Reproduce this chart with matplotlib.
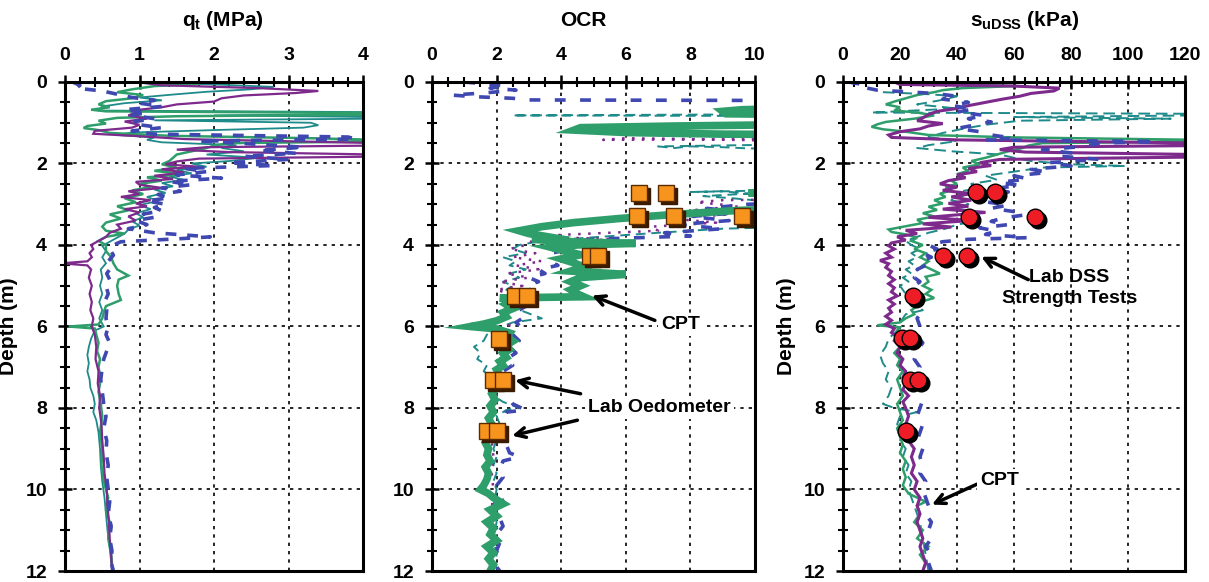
import numpy as np
import matplotlib
matplotlib.use("Agg")
import matplotlib.pyplot as plt
from matplotlib.transforms import offset_copy

plt.rcParams['font.family'] = ['Liberation Sans', 'DejaVu Sans']
plt.rcParams['font.weight'] = 'bold'
plt.rcParams['mathtext.fontset'] = 'custom'
plt.rcParams['mathtext.rm'] = 'Liberation Sans:bold'
plt.rcParams['mathtext.it'] = 'Liberation Sans:bold'
plt.rcParams['mathtext.bf'] = 'Liberation Sans:bold'

# colours of the CPT soundings
PURPLE = '#7D2A8C'
GREEN = '#2E9E6A'
TEAL = '#1F8A8A'
BLUE = '#3F48B0'

# ---- qt (MPa) : (depth, value) ----
qt_purple = [(0.00,0.95),(0.08,1.3),(0.15,2.6),(0.22,3.4),(0.27,3.1),(0.33,2.4),(0.40,2.1),(0.48,2.0),(0.55,1.5),(0.62,1.3),
             (0.68,1.0),(0.75,0.95),(0.82,0.85),(0.90,1.1),(0.97,0.8),(1.05,1.0),(1.12,0.9),(1.20,0.4),(1.27,0.38),(1.33,1.0),
             (1.40,1.6),(1.50,4.2),(1.56,4.2),(1.60,1.9),(1.66,1.5),(1.72,2.2),(1.78,4.2),(1.83,4.2),(1.88,1.8),(1.95,1.5),
             (2.02,1.35),(2.08,1.8),(2.14,1.3),(2.22,1.6),(2.30,1.2),(2.38,1.45),(2.45,0.95),(2.52,1.0),(2.60,1.3),(2.68,0.85),
             (2.75,1.0),(2.82,0.75),(2.90,1.15),(2.98,0.95),(3.05,1.1),(3.12,0.8),(3.20,1.0),(3.30,0.85),(3.40,0.95),(3.50,0.7),
             (3.60,0.75),(3.70,0.6),(3.80,0.55),(3.90,0.45),(4.00,0.35),(4.10,0.38),(4.20,0.33),(4.30,0.36),(4.40,0.3),(4.45,-0.05),
             (4.50,0.3),(4.60,0.35),(4.80,0.32),(5.00,0.36),(5.20,0.33),(5.40,0.36),(5.60,0.34),(5.80,0.38),(6.00,0.36),(6.20,0.40),
             (6.50,0.42),(6.80,0.41),(7.10,0.45),(7.40,0.44),(7.70,0.47),(8.00,0.46),(8.40,0.49),(8.80,0.50),(9.20,0.52),(9.60,0.53),
             (10.0,0.56),(10.4,0.57),(10.8,0.59),(11.2,0.60),(11.6,0.62),(12.0,0.63)]
qt_green = [(0.00,1.0),(0.05,1.8),(0.10,1.2),(0.18,0.9),(0.25,0.7),(0.32,1.05),(0.40,0.9),(0.47,0.55),(0.55,0.45),(0.62,0.6),
            (0.68,0.35),(0.72,0.55),(0.76,4.2),(0.80,4.2),(0.84,1.5),(0.88,0.7),(0.95,0.45),(1.02,0.55),(1.08,0.3),(1.13,0.25),
            (1.18,0.45),(1.25,0.6),(1.32,1.4),(1.38,3.3),(1.42,4.2),(1.46,4.2),(1.50,2.2),(1.56,2.0),(1.62,1.9),(1.70,1.7),
            (1.78,1.5),(1.86,1.45),(1.94,1.4),(2.02,1.3),(2.10,1.5),(2.18,1.2),(2.26,1.6),(2.34,1.1),(2.42,1.3),(2.50,1.0),
            (2.58,1.15),(2.66,0.9),(2.75,1.05),(2.85,0.8),(2.95,0.95),(3.05,0.7),(3.15,0.85),(3.25,0.6),(3.35,0.75),(3.45,0.55),
            (3.55,0.5),(3.65,0.55),(3.72,0.8),(3.80,0.55),(3.90,0.45),(4.00,0.55),(4.15,0.55),(4.30,0.62),(4.45,0.65),(4.60,0.70),
            (4.75,0.85),(4.85,0.72),(5.00,0.70),(5.20,0.72),(5.35,0.75),(5.50,0.55),(5.65,0.52),(5.80,0.50),(5.95,0.45),(6.00,0.05),
            (6.05,0.40),(6.20,0.42),(6.40,0.45),(6.60,0.43),(6.80,0.47),(7.00,0.45),(7.30,0.48),(7.60,0.45),(7.90,0.48),(8.20,0.50),
            (8.60,0.47),(9.00,0.50),(9.40,0.49),(9.80,0.52),(10.2,0.58),(10.5,0.55),(10.8,0.60),(11.2,0.58),(11.6,0.62),(12.0,0.64)]
qt_teal = [(0.00,0.7),(0.06,2.0),(0.12,2.8),(0.18,2.5),(0.24,1.9),(0.30,1.5),(0.38,1.0),(0.45,1.3),(0.52,0.8),(0.60,0.5),
           (0.70,0.45),(0.74,4.2),(0.78,4.2),(0.82,2.0),(0.86,4.2),(0.90,4.2),(0.94,1.2),(1.00,3.3),(1.06,3.4),(1.12,3.2),
           (1.18,2.0),(1.24,0.9),(1.30,0.7),(1.36,1.2),(1.42,1.1),(1.48,1.3),(1.55,2.3),(1.62,2.1),(1.70,2.4),(1.78,1.9),
           (1.86,2.6),(1.94,2.2),(2.00,1.7),(2.08,1.9),(2.16,1.5),(2.24,1.7),(2.32,1.4),(2.40,1.6),(2.48,1.3),(2.56,1.45),
           (2.64,1.2),(2.72,1.35),(2.82,1.1),(2.92,1.25),(3.02,1.0),(3.12,1.15),(3.22,0.95),(3.32,1.05),(3.42,0.9),(3.52,1.0),
           (3.62,0.85),(3.72,0.8),(3.82,0.7),(3.92,0.6),(4.02,0.5),(4.15,0.55),(4.30,0.5),(4.45,0.55),(4.60,0.48),(4.80,0.50),
           (5.00,0.47),(5.20,0.50),(5.40,0.46),(5.60,0.50),(5.80,0.46),(6.00,0.52),(6.10,0.40),(6.30,0.35),(6.50,0.32),(6.70,0.30),
           (6.90,0.32),(7.10,0.30),(7.30,0.33),(7.50,0.34),(7.70,0.38),(7.90,0.40),(8.10,0.38),(8.30,0.42),(8.60,0.45),(9.00,0.47),
           (9.40,0.48),(9.80,0.50),(10.2,0.53),(10.6,0.55),(11.0,0.57),(11.4,0.60),(11.8,0.62),(12.0,0.64)]
qt_blue = [(0.00,0.1),(0.08,0.2),(0.15,0.15),(0.22,0.5),(0.30,0.7),(0.38,0.9),(0.45,1.2),(0.52,1.0),(0.60,1.3),(0.68,0.8),
           (0.75,1.1),(0.82,0.9),(0.90,1.2),(0.98,0.9),(1.05,1.0),(1.12,1.3),(1.20,0.9),(1.28,1.2),(1.35,3.8),(1.40,3.9),
           (1.45,1.8),(1.52,2.5),(1.60,3.2),(1.68,2.6),(1.75,3.1),(1.82,2.4),(1.90,3.0),(1.98,2.2),(2.05,2.8),(2.12,1.6),
           (2.20,1.9),(2.28,1.5),(2.36,2.1),(2.44,1.4),(2.52,1.7),(2.60,1.3),(2.68,1.55),(2.76,1.25),(2.84,1.4),(2.92,1.1),
           (3.00,1.35),(3.08,1.2),(3.16,1.3),(3.24,1.05),(3.32,1.2),(3.40,0.95),(3.50,1.1),(3.60,0.85),(3.70,1.2),(3.80,1.95),
           (3.85,1.5),(3.92,0.75),(4.00,0.65),(4.10,0.60),(4.25,0.65),(4.40,0.58),(4.55,0.62),(4.70,0.56),(4.85,0.6),(5.00,0.55),
           (5.20,0.58),(5.40,0.53),(5.60,0.56),(5.80,0.55),(6.00,0.58),(6.20,0.55),(6.40,0.60),(6.60,0.56),(6.80,0.52),(7.00,0.50),
           (7.30,0.48),(7.60,0.50),(7.90,0.52),(8.20,0.55),(8.50,0.52),(8.80,0.56),(9.10,0.55),(9.40,0.58),(9.70,0.56),(10.0,0.58),
           (10.3,0.60),(10.6,0.58),(10.9,0.62),(11.2,0.60),(11.5,0.63),(11.8,0.62),(12.0,0.65)]

# ---- OCR : (depth, value) ----
ocr_green = [(0.60,14),(0.68,9.6),(0.72,9.0),(0.78,9.1),(0.82,14),(1.02,14),(1.08,7.5),(1.12,4.6),(1.18,4.4),(1.24,6.0),
             (1.28,9.0),(1.30,14),(2.65,14),(2.72,9.8),(2.78,14),(3.05,14),(3.15,9.5),(3.25,7.5),(3.35,5.8),(3.45,4.4),
             (3.55,3.4),(3.65,2.7),(3.72,3.0),(3.80,3.6),(3.86,3.1),(3.92,4.2),(3.96,6.3),(4.00,4.5),(4.06,3.7),(4.14,4.1),
             (4.24,4.6),(4.34,4.0),(4.44,4.4),(4.54,4.7),(4.64,4.3),(4.72,6.0),(4.80,4.6),(4.90,4.3),(5.00,4.6),(5.10,4.3),
             (5.20,4.5),(5.27,4.7),(5.30,2.1),(5.36,2.6),(5.46,2.3),(5.56,2.5),(5.66,2.2),(5.76,2.3),(5.86,2.0),(5.94,1.6),
             (6.00,1.2),(6.06,2.0),(6.16,2.4),(6.26,2.3),(6.36,2.5),(6.46,2.3),(6.56,2.4),(6.66,2.2),(6.76,2.3),(6.86,2.1),
             (6.96,2.2),(7.06,2.0),(7.20,2.1),(7.35,1.9),(7.50,2.0),(7.65,1.85),(7.80,1.95),(7.95,1.8),(8.10,1.9),(8.25,1.75),
             (8.40,1.85),(8.55,1.7),(8.70,1.8),(8.85,1.65),(9.00,1.75),(9.15,1.7),(9.30,1.8),(9.45,1.65),(9.60,1.75),(9.75,1.7),
             (9.90,1.6),(10.00,1.5),(10.10,1.75),(10.20,1.9),(10.35,2.2),(10.50,1.8),(10.65,2.0),(10.80,1.7),(10.95,1.9),(11.10,1.8),
             (11.25,2.0),(11.40,1.7),(11.55,1.9),(11.70,1.75),(11.85,1.9),(12.00,1.8)]
ocr_blue = [(0.00,1.0),(0.05,1.7),(0.10,2.3),(0.15,1.8),(0.20,2.6),(0.27,1.6),(0.32,0.6),(0.36,1.3),(0.40,2.5),(0.44,3.0),
            (0.46,14),(2.90,14),(3.00,9.8),(3.10,8.5),(3.20,9.6),(3.30,8.0),(3.40,9.2),(3.50,7.6),(3.60,9.0),(3.70,7.2),
            (3.78,8.0),(3.82,6.4),(3.86,5.0),(3.92,4.2),(4.00,3.6),(4.10,4.3),(4.20,3.7),(4.30,4.1),(4.40,3.6),(4.50,3.9),
            (4.60,3.3),(4.70,3.5),(4.80,3.0),(4.90,3.3),(5.00,2.9),(5.15,3.1),(5.30,2.8),(5.45,3.0),(5.60,2.7),(5.75,2.9),
            (5.90,2.6),(6.05,2.8),(6.20,2.5),(6.35,2.7),(6.50,2.4),(6.65,2.6),(6.80,2.3),(6.95,2.5),(7.10,2.2),(7.30,2.4),
            (7.50,2.2),(7.70,2.3),(7.90,2.5),(8.05,2.9),(8.10,2.3),(8.30,2.2),(8.50,2.3),(8.70,2.1),(8.90,2.3),(9.10,2.4),
            (9.20,2.7),(9.30,2.2),(9.50,2.1),(9.70,2.2),(9.90,2.0),(10.10,2.1),(10.30,2.2),(10.50,2.0),(10.70,2.1),(10.90,2.2),
            (11.10,2.0),(11.30,2.1),(11.50,2.0),(11.70,2.1),(11.90,2.0),(12.00,2.1)]
ocr_teal = [(0.78,14),(0.82,2.5),(0.84,14),(1.50,14),(1.58,7.0),(1.62,7.5),(1.58,8.0),(1.60,9.0),(1.63,9.8),(1.65,14),
            (2.60,14),(2.70,8.0),(2.68,9.0),(2.74,9.8),(2.80,8.4),(2.86,9.4),(2.94,10.5),(3.20,14),(3.50,14),(3.60,9.0),
            (3.70,7.0),(3.80,5.2),(3.90,3.4),(4.00,2.7),(4.10,2.5),(4.20,2.9),(4.30,2.2),(4.40,2.6),(4.50,2.4),(4.60,2.9),
            (4.70,2.4),(4.80,2.7),(4.90,2.2),(5.00,2.5),(5.10,2.3),(5.20,2.8),(5.35,3.2),(5.50,2.4),(5.65,2.9),(5.80,3.4),
            (5.90,2.5),(6.05,2.0),(6.20,1.7),(6.35,1.6),(6.50,1.3),(6.65,1.5),(6.80,1.4),(6.95,1.7),(7.10,1.6),(7.25,1.9),
            (7.40,1.8),(7.55,2.0),(7.70,1.9),(7.85,2.2),(8.00,2.7),(8.05,2.3),(8.20,2.0),(8.40,2.1),(8.60,1.9),(8.80,2.0),
            (9.00,1.9),(9.20,2.0),(9.40,1.9),(9.60,2.0),(9.80,1.9),(10.00,2.0),(10.40,1.9),(10.80,2.0),(11.20,1.9),(11.60,2.0),
            (12.00,1.9)]
ocr_purple = [(1.30,14),(1.40,10.0),(1.42,5.3),(1.38,6.0),(1.40,8.0),(1.43,10.0),(1.45,14),(2.85,14),(2.90,9.0),(2.95,8.2),
              (3.05,9.5),(3.15,8.0),(3.25,9.2),(3.35,7.4),(3.45,8.8),(3.55,6.8),(3.65,7.0),(3.70,5.5),(3.75,4.0),(3.80,3.3),
              (3.86,5.8),(3.92,3.0),(4.00,2.9),(4.10,2.4),(4.20,3.2),(4.30,2.5),(4.40,3.4),(4.50,2.6),(4.60,3.3),(4.70,2.3),
              (4.80,3.0),(4.90,2.1),(5.00,2.8),(5.10,2.0),(5.20,2.4),(5.35,2.6),(5.50,2.2),(5.65,2.5),(5.80,2.1),(5.95,2.4),
              (6.10,2.2),(6.30,2.3),(6.50,2.1),(6.70,2.2),(6.90,2.0),(7.10,2.1),(7.40,1.95),(7.70,2.0),(8.00,1.9),(8.40,1.95),
              (8.80,1.85),(9.20,1.9),(9.60,1.85),(10.00,1.9),(10.50,1.85),(11.00,1.9),(11.50,1.85),(12.00,1.9)]

# ---- suDSS (kPa) : (depth, value) ----
su_purple = [(0.00,18),(0.06,20),(0.10,60),(0.15,76),(0.22,74),(0.28,66),(0.35,62),(0.42,56),(0.50,50),(0.58,44),
             (0.65,40),(0.72,33),(0.80,30),(0.88,28),(0.95,26),(1.02,35),(1.08,30),(1.15,27),(1.22,20),(1.30,16),
             (1.36,17),(1.42,40),(1.50,125),(1.56,125),(1.60,60),(1.66,55),(1.72,64),(1.78,125),(1.84,125),(1.90,55),
             (1.98,48),(2.05,52),(2.12,44),(2.20,47),(2.28,40),(2.35,43),(2.42,37),(2.50,34),(2.58,40),(2.66,35),
             (2.74,45),(2.82,38),(2.90,45),(2.98,37),(3.05,44),(3.12,35),(3.20,50),(3.26,40),(3.32,30),(3.40,45),
             (3.48,28),(3.56,38),(3.64,22),(3.72,26),(3.80,19),(3.88,22),(3.95,17),(4.02,16),(4.10,18),(4.20,15),
             (4.30,17),(4.38,13),(4.46,16),(4.55,15),(4.65,17),(4.75,16),(4.85,18),(4.95,16),(5.05,18),(5.15,17),
             (5.25,19),(5.35,16),(5.45,18),(5.55,16),(5.65,17),(5.75,15),(5.85,17),(5.95,15),(6.05,18),(6.15,17),
             (6.25,19),(6.35,18),(6.50,20),(6.65,19),(6.80,21),(6.95,20),(7.10,22),(7.25,21),(7.40,22),(7.55,21),
             (7.70,23),(7.85,21),(8.00,22),(8.20,23),(8.40,22),(8.60,24),(8.80,23),(9.00,25),(9.20,24),(9.40,25),
             (9.60,24),(9.80,26),(10.00,25),(10.20,27),(10.40,26),(10.60,27),(10.80,26),(11.00,27),(11.20,28),(11.40,27),
             (11.60,28),(11.80,29),(12.00,28)]
su_green = [(0.00,22),(0.05,40),(0.10,60),(0.15,42),(0.20,35),(0.25,32),(0.32,26),(0.40,22),(0.48,18),(0.55,15),
            (0.62,20),(0.70,18),(0.75,26),(0.82,32),(0.90,25),(0.98,15),(1.04,12),(1.10,10),(1.16,14),(1.22,22),
            (1.30,30),(1.36,60),(1.42,125),(1.46,125),(1.50,70),(1.56,65),(1.62,63),(1.70,58),(1.78,54),(1.86,50),
            (1.94,45),(2.02,48),(2.10,42),(2.18,44),(2.26,40),(2.34,42),(2.42,38),(2.50,40),(2.58,36),(2.66,38),
            (2.74,34),(2.82,36),(2.90,32),(2.98,35),(3.06,30),(3.14,33),(3.22,28),(3.30,32),(3.38,26),(3.46,28),
            (3.54,22),(3.62,16),(3.68,17),(3.74,22),(3.82,26),(3.90,24),(4.00,28),(4.10,25),(4.20,29),(4.30,27),
            (4.40,30),(4.50,28),(4.60,31),(4.70,34),(4.78,29),(4.90,30),(5.00,28),(5.10,31),(5.20,29),(5.30,32),
            (5.40,27),(5.50,26),(5.60,24),(5.70,25),(5.80,22),(5.90,20),(5.97,12),(6.02,20),(6.10,19),(6.20,21),
            (6.35,19),(6.50,20),(6.65,18),(6.80,20),(6.95,19),(7.10,21),(7.30,19),(7.50,20),(7.70,21),(7.90,19),
            (8.10,20),(8.30,21),(8.50,19),(8.70,20),(8.90,21),(9.10,20),(9.30,22),(9.50,21),(9.70,22),(9.90,21),
            (10.10,23),(10.30,29),(10.40,26),(10.60,27),(10.80,25),(11.00,28),(11.20,26),(11.40,30),(11.60,27),(11.80,29),
            (12.00,28)]
su_teal = [(0.25,14),(0.30,30),(0.35,40),(0.45,34),(0.55,26),(0.65,40),(0.75,10),(0.78,125),(0.82,125),(0.86,60),
           (0.90,115),(0.95,62),(1.05,50),(1.15,42),(1.25,35),(1.35,30),(1.45,40),(1.55,30),(1.62,26),(1.70,38),
           (1.78,55),(1.86,60),(1.94,66),(2.02,80),(2.06,99),(2.10,70),(2.20,60),(2.30,50),(2.40,54),(2.50,45),
           (2.60,48),(2.70,40),(2.80,42),(2.90,38),(3.00,44),(3.10,40),(3.20,46),(3.30,42),(3.40,48),(3.50,40),
           (3.60,36),(3.70,30),(3.80,26),(3.90,22),(4.00,24),(4.10,27),(4.20,24),(4.30,26),(4.40,23),(4.50,25),
           (4.60,22),(4.70,24),(4.80,21),(4.90,23),(5.00,20),(5.20,22),(5.40,24),(5.60,28),(5.70,22),(5.90,20),
           (6.10,19),(6.30,16),(6.50,15),(6.70,13),(6.90,14),(7.10,16),(7.30,15),(7.50,17),(7.70,16),(7.90,14),
           (8.00,18),(8.10,26),(8.20,20),(8.40,19),(8.60,21),(8.80,20),(9.00,22),(9.20,21),(9.40,23),(9.60,22),
           (9.80,24),(10.00,23),(10.40,25),(10.80,27),(11.20,28),(11.60,29),(12.00,30)]
su_blue = [(0.00,2),(0.05,6),(0.10,5),(0.20,12),(0.28,32),(0.35,40),(0.42,35),(0.50,44),(0.58,38),(0.66,46),
           (0.74,40),(0.82,50),(0.90,44),(0.98,52),(1.06,46),(1.14,40),(1.22,48),(1.30,52),(1.38,60),(1.42,50),
           (1.46,110),(1.50,90),(1.58,85),(1.66,70),(1.74,80),(1.82,76),(1.90,90),(1.98,72),(2.06,80),(2.14,66),
           (2.22,72),(2.30,60),(2.38,65),(2.46,55),(2.54,62),(2.62,52),(2.70,58),(2.78,48),(2.86,55),(2.94,50),
           (3.02,58),(3.10,52),(3.18,60),(3.26,64),(3.34,56),(3.42,52),(3.50,58),(3.58,48),(3.66,54),(3.74,50),
           (3.82,65),(3.86,44),(3.92,35),(4.00,30),(4.10,33),(4.20,28),(4.30,31),(4.40,27),(4.50,29),(4.60,26),
           (4.70,28),(4.80,25),(4.90,27),(5.00,25),(5.20,27),(5.40,26),(5.60,28),(5.80,26),(6.00,27),(6.20,25),
           (6.40,28),(6.60,26),(6.80,25),(7.00,27),(7.20,26),(7.40,28),(7.60,27),(7.80,28),(8.00,27),(8.20,26),
           (8.40,28),(8.60,27),(8.80,26),(9.00,28),(9.20,27),(9.40,28),(9.60,27),(9.80,29),(10.00,28),(10.20,29),
           (10.40,30),(10.60,29),(10.80,31),(11.00,30),(11.20,31),(11.40,29),(11.60,31),(11.80,30),(12.00,31)]

# ---- lab tests ----
oed_ocr = [6.4, 7.24, 6.35, 7.5, 9.6, 4.9, 5.15, 2.57, 2.93, 2.08, 1.9, 2.2, 1.7, 2.0]
oed_depth = [2.73, 2.73, 3.29, 3.29, 3.29, 4.27, 4.27, 5.24, 5.24, 6.3, 7.32, 7.32, 8.57, 8.57]
dss_su = [46.6, 53.3, 44.2, 67.4, 35.0, 43.5, 24.6, 20.7, 23.5, 23.5, 26.3, 22.1]
dss_depth = [2.71, 2.71, 3.32, 3.32, 4.27, 4.27, 5.24, 6.29, 6.29, 7.32, 7.32, 8.56]


def draw(ax, pts, color, lw, dashes=None):
    a = np.array(pts)
    line, = ax.plot(a[:, 1], a[:, 0], color=color, lw=lw, solid_joinstyle='miter')
    if dashes is not None:
        line.set_dashes(dashes)


def setup(ax, xmax, xmajor, xminor):
    ax.set_xlim(0, xmax)
    ax.set_ylim(12, 0)
    ax.xaxis.tick_top()
    ax.set_xticks(np.arange(0, xmax + 0.001, xmajor))
    ax.set_xticks(np.arange(0, xmax + 0.001, xminor), minor=True)
    ax.set_yticks(np.arange(0, 12.01, 2))
    ax.set_yticks(np.arange(0, 12.01, 0.5), minor=True)
    ax.tick_params(which='major', direction='inout', length=10, width=1.8, labelsize=14, pad=8)
    ax.tick_params(which='minor', direction='inout', length=7, width=1.5)
    ax.tick_params(axis='x', which='both', top=True, bottom=False)
    for s in ax.spines.values():
        s.set_linewidth(2.2)
    ax.grid(True, which='major', color='k', ls=(0, (2, 3)), lw=1.2)
    ax.set_axisbelow(True)
    for lab in ax.get_xticklabels() + ax.get_yticklabels():
        lab.set_fontweight('bold')


fig = plt.figure(figsize=(12.09, 5.82), dpi=100)
W, H = 1209, 582
ax1 = fig.add_axes([65 / W, 11 / H, 298 / W, 489 / H])
ax2 = fig.add_axes([432 / W, 11 / H, 323 / W, 489 / H])
ax3 = fig.add_axes([843 / W, 11 / H, 342 / W, 489 / H])

# qt panel
setup(ax1, 4, 1, 0.2)
draw(ax1, qt_teal, TEAL, 1.3)
draw(ax1, qt_green, GREEN, 1.8)
draw(ax1, qt_purple, PURPLE, 1.6)
draw(ax1, qt_blue, BLUE, 2.6, dashes=(3, 3))
ax1.set_ylabel('Depth (m)', fontsize=15, fontweight='bold', labelpad=5)

# OCR panel
setup(ax2, 10, 2, 0.5)
draw(ax2, ocr_teal, TEAL, 1.4, dashes=(5, 3))
draw(ax2, ocr_purple, PURPLE, 1.8, dashes=(1, 3))
draw(ax2, ocr_blue, BLUE, 2.6, dashes=(3, 4))
draw(ax2, ocr_green, GREEN, 5.5)
sh2 = offset_copy(ax2.transData, fig=fig, x=3, y=-3, units='dots')
ax2.plot(oed_ocr, oed_depth, 's', ms=11, color='#3a1a00', mec='#3a1a00', transform=sh2, zorder=5)
ax2.plot(oed_ocr, oed_depth, 's', ms=11, color='#F7941D', mec='#5a2a00', mew=1, zorder=6)

# suDSS panel
setup(ax3, 120, 20, 4)
draw(ax3, su_teal, TEAL, 1.4, dashes=(6, 3))
draw(ax3, su_green, GREEN, 1.8)
draw(ax3, su_purple, PURPLE, 2.2)
draw(ax3, su_blue, BLUE, 2.6, dashes=(3, 4))
sh3 = offset_copy(ax3.transData, fig=fig, x=3, y=-3, units='dots')
ax3.plot(dss_su, dss_depth, 'o', ms=12, color='k', transform=sh3, zorder=5)
ax3.plot(dss_su, dss_depth, 'o', ms=12, color='#EE1C25', mec='k', mew=1, zorder=6)
ax3.set_ylabel('Depth (m)', fontsize=15, fontweight='bold', labelpad=5)

# titles
fig.text(223 / W, 1 - 20 / H, r'$q_t$ (MPa)', ha='center', va='center', fontsize=15, fontweight='bold')
fig.text(583 / W, 1 - 20 / H, 'OCR', ha='center', va='center', fontsize=15, fontweight='bold')
fig.text(1025 / W, 1 - 20 / H, r'$s_{uDSS}$ (kPa)', ha='center', va='center', fontsize=15, fontweight='bold')

arrow = dict(arrowstyle='->,head_length=0.7,head_width=0.35', lw=2.5, color='k', shrinkA=0, shrinkB=0)
box = dict(boxstyle='square,pad=0.15', fc='white', ec='none')

ax2.annotate('', xy=(4.95, 5.24), xytext=(6.9, 5.85), arrowprops=arrow, zorder=7)
ax2.text(7.7, 5.95, 'CPT', ha='center', va='center', fontsize=14, fontweight='bold', bbox=box, zorder=7)
ax2.annotate('', xy=(2.57, 7.32), xytext=(4.6, 7.65), arrowprops=arrow, zorder=7)
ax2.annotate('', xy=(2.48, 8.68), xytext=(4.5, 8.3), arrowprops=arrow, zorder=7)
ax2.text(7.05, 7.98, 'Lab Oedometer', ha='center', va='center', fontsize=14, fontweight='bold', bbox=box, zorder=7)

ax3.annotate('', xy=(48.5, 4.29), xytext=(65, 4.85), arrowprops=arrow, zorder=7)
ax3.text(79.5, 5.05, 'Lab DSS\nStrength Tests', ha='center', va='center', fontsize=14,
         fontweight='bold', linespacing=1.3, zorder=7)
ax3.annotate('', xy=(31.2, 10.37), xytext=(47, 9.87), arrowprops=arrow, zorder=7)
ax3.text(55, 9.78, 'CPT', ha='center', va='center', fontsize=14, fontweight='bold', bbox=box, zorder=7)

fig.savefig('out.png', dpi=100, facecolor='white')
